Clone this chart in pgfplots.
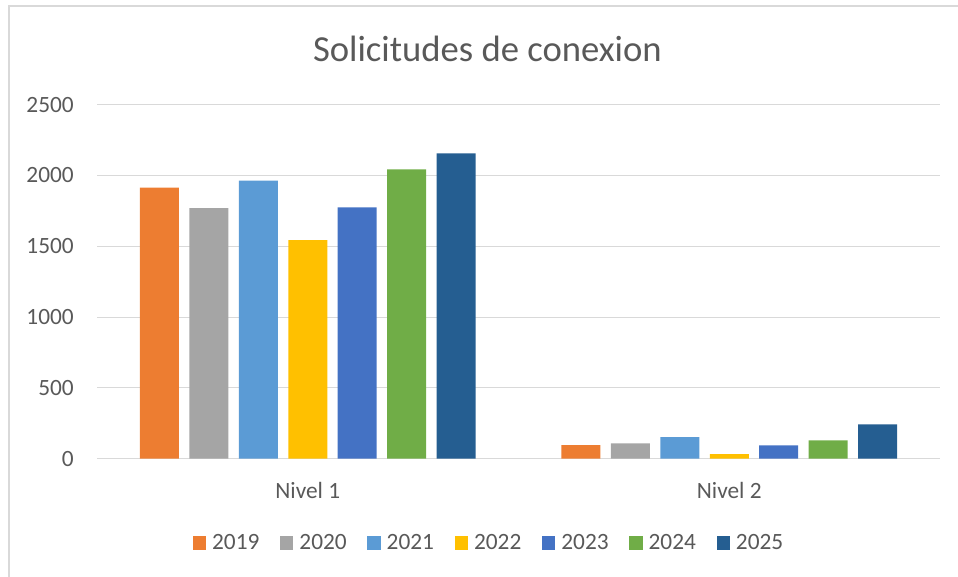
\documentclass[border=0pt]{standalone}
\usepackage{pgfplots}
\pgfplotsset{compat=1.18}
\usepackage{fontspec}
\setmainfont{Carlito}

\definecolor{c2019}{HTML}{ED7D31}
\definecolor{c2020}{HTML}{A5A5A5}
\definecolor{c2021}{HTML}{5B9BD5}
\definecolor{c2022}{HTML}{FFC000}
\definecolor{c2023}{HTML}{4472C4}
\definecolor{c2024}{HTML}{70AD47}
\definecolor{c2025}{HTML}{255E91}
\definecolor{txt}{HTML}{595959}
\definecolor{gridc}{HTML}{D9D9D9}

\begin{document}
\begin{tikzpicture}[x=0.75pt,y=0.75pt]
% page = 958 x 577 px
\path[use as bounding box] (0,0) rectangle (958,577);
% chart frame (top and left edges visible)
\draw[gridc, line width=1.5pt] (8.5,-20) -- (8.5,571) -- (980,571);

\node[anchor=base, text=txt, font=\fontsize{27.5}{33}\selectfont] at (487.4,515) {Solicitudes de conexion};

\begin{axis}[
    at={(72.75pt,88.725pt)}, anchor=south west,
    scale only axis,
    width=632.25pt, height=265.5pt,
    ybar=7.84pt, bar width=29.25pt,
    every axis plot/.append style={draw=none,
        legend image code/.code={\fill[##1] (0pt,-5pt) rectangle (10pt,5pt);}},
    xmin=-0.5, xmax=1.5,
    ymin=0, ymax=2500,
    xtick={0,1}, xticklabels={Nivel 1, Nivel 2},
    ytick={0,500,1000,1500,2000,2500},
    yticklabels={0,500,1000,1500,2000,2500},
    separate axis lines,
    axis x line*=bottom, axis y line*=left,
    y axis line style={draw=none},
    x axis line style={draw=gridc, line width=1.2pt},
    major tick length=0pt,
    xtick style={draw=none}, ytick style={draw=none},
    ymajorgrids, grid style={draw=gridc, line width=0.8pt},
    ticklabel style={text=txt, font=\fontsize{17.5}{21}\selectfont},
    xticklabel style={anchor=base, yshift=-29.85pt},
    yticklabel style={anchor=east, inner sep=0pt, xshift=-17.25pt},
    legend style={at={(0.4674,-0.238)}, anchor=center, draw=none,
        text=txt, font=\fontsize{17.5}{21}\selectfont,
        nodes={inner xsep=4.5pt},
        /tikz/every even column/.append style={column sep=11pt}},
    legend columns=-1,
    clip=false,
]
\addplot[fill=c2019] coordinates {(0,1914) (1,96)};
\addplot[fill=c2020] coordinates {(0,1770) (1,108)};
\addplot[fill=c2021] coordinates {(0,1963) (1,153)};
\addplot[fill=c2022] coordinates {(0,1544) (1,33)};
\addplot[fill=c2023] coordinates {(0,1775) (1,94)};
\addplot[fill=c2024] coordinates {(0,2044) (1,129)};
\addplot[fill=c2025] coordinates {(0,2157) (1,242)};
\legend{2019,2020,2021,2022,2023,2024,2025}
\end{axis}
\end{tikzpicture}
\end{document}
